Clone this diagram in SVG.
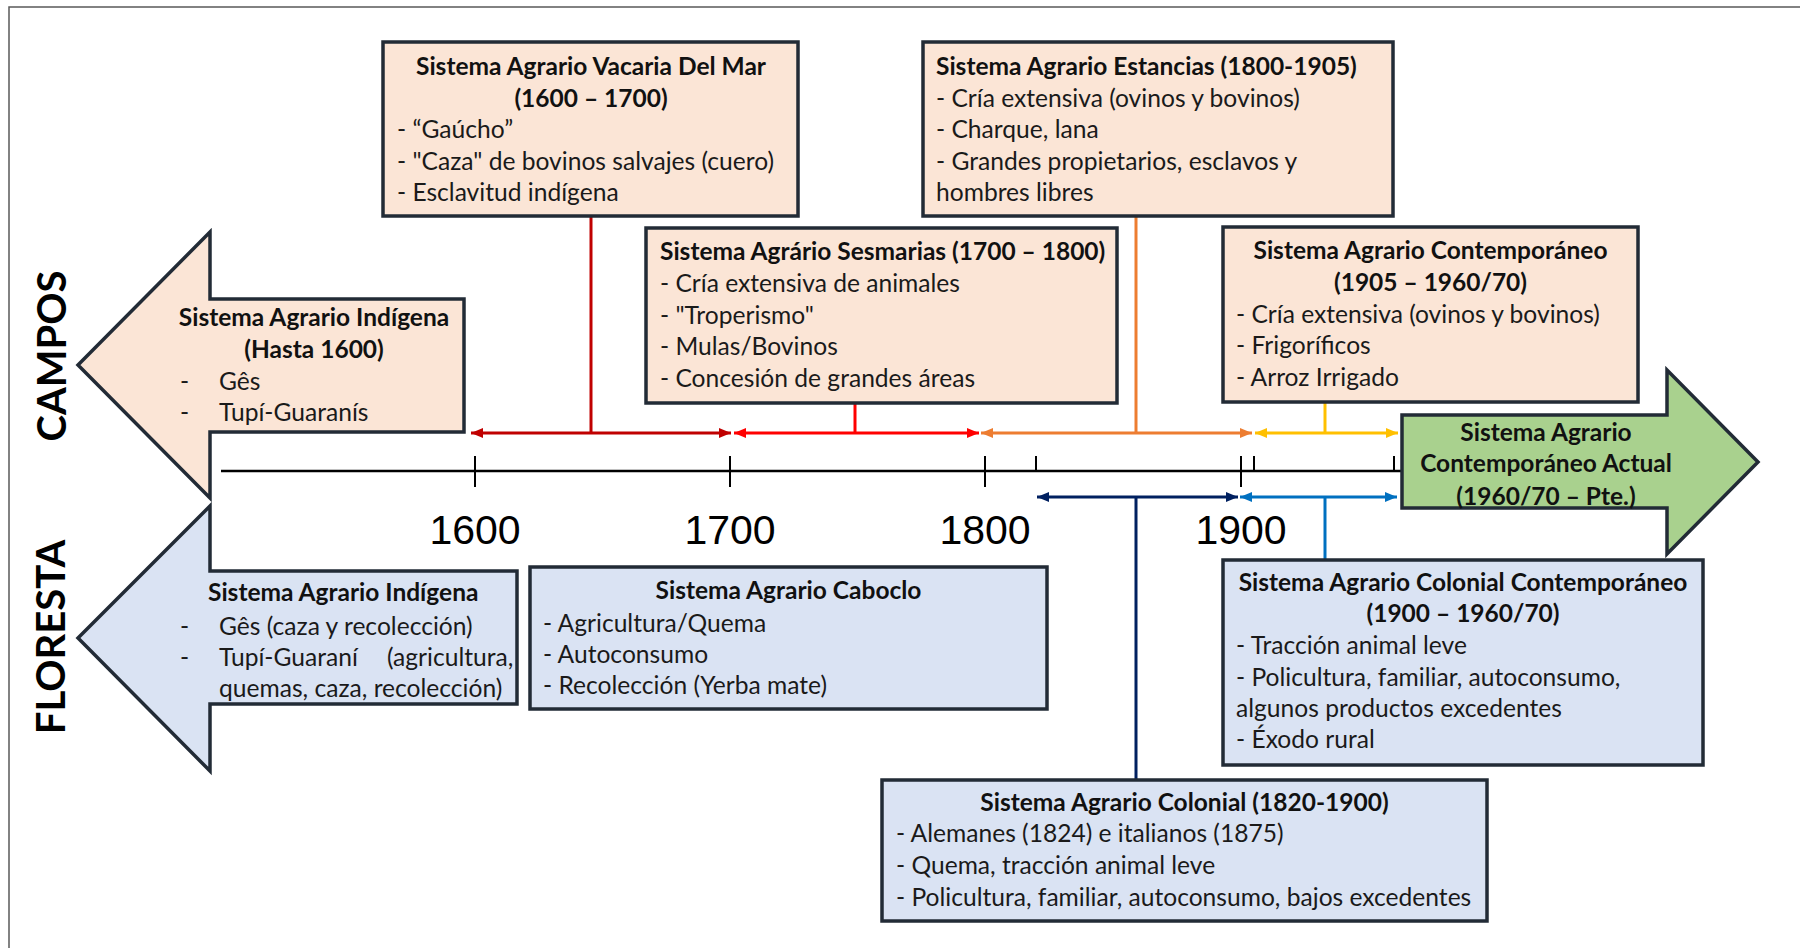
<svg xmlns="http://www.w3.org/2000/svg" width="1800" height="948" viewBox="0 0 1800 948">
<style>
.box{stroke:#222b36;stroke-width:3.5;stroke-linejoin:miter}
.peach{fill:#fbe5d6}
.blue{fill:#dae3f3}
.green{fill:#a9d18e}
.t{font-family:Lato,"Open Sans",sans-serif;font-size:24.6px;fill:#1a1a1a}
.b{font-family:Lato,"Open Sans",sans-serif;font-size:24.5px;font-weight:bold;fill:#111}
.c{text-anchor:middle}
.yr{font-family:"Liberation Sans",Arial,sans-serif;font-size:41px;fill:#000;text-anchor:middle}
.side{font-family:Lato,"Open Sans",sans-serif;font-weight:bold;font-size:40px;fill:#000;text-anchor:middle}
.ln{fill:none;stroke-width:3}
.tick{stroke:#000;stroke-width:2}
</style>
<defs>
<marker id="mDR" viewBox="0 0 12 10" refX="12" refY="5" markerWidth="12" markerHeight="10" markerUnits="userSpaceOnUse" orient="auto-start-reverse"><path d="M0,0L12,5L0,10z" fill="#c00000"/></marker>
<marker id="mR" viewBox="0 0 12 10" refX="12" refY="5" markerWidth="12" markerHeight="10" markerUnits="userSpaceOnUse" orient="auto-start-reverse"><path d="M0,0L12,5L0,10z" fill="#ff0000"/></marker>
<marker id="mO" viewBox="0 0 12 10" refX="12" refY="5" markerWidth="12" markerHeight="10" markerUnits="userSpaceOnUse" orient="auto-start-reverse"><path d="M0,0L12,5L0,10z" fill="#ed7d31"/></marker>
<marker id="mY" viewBox="0 0 12 10" refX="12" refY="5" markerWidth="12" markerHeight="10" markerUnits="userSpaceOnUse" orient="auto-start-reverse"><path d="M0,0L12,5L0,10z" fill="#ffc000"/></marker>
<marker id="mN" viewBox="0 0 12 10" refX="12" refY="5" markerWidth="12" markerHeight="10" markerUnits="userSpaceOnUse" orient="auto-start-reverse"><path d="M0,0L12,5L0,10z" fill="#002060"/></marker>
<marker id="mB" viewBox="0 0 12 10" refX="12" refY="5" markerWidth="12" markerHeight="10" markerUnits="userSpaceOnUse" orient="auto-start-reverse"><path d="M0,0L12,5L0,10z" fill="#0070c0"/></marker>
</defs>
<rect width="1800" height="948" fill="#fff"/>
<path d="M9,948V7H1800" fill="none" stroke="#5a5a5a" stroke-width="1.5"/>

<text class="side" transform="translate(66,356) rotate(-90)">CAMPOS</text>
<text class="side" transform="translate(65,637) rotate(-90)">FLORESTA</text>

<g id="timeline">
<line x1="221" y1="471" x2="1405" y2="471" stroke="#000" stroke-width="2.5"/>
<line class="tick" x1="475" y1="456" x2="475" y2="487"/>
<line class="tick" x1="730" y1="456" x2="730" y2="487"/>
<line class="tick" x1="985" y1="456" x2="985" y2="487"/>
<line class="tick" x1="1241" y1="456" x2="1241" y2="487"/>
<line class="tick" x1="1036" y1="456" x2="1036" y2="471"/>
<line class="tick" x1="1254" y1="456" x2="1254" y2="471"/>
<line class="tick" x1="1394" y1="456" x2="1394" y2="471"/>
<text class="yr" x="475" y="544">1600</text>
<text class="yr" x="730" y="544">1700</text>
<text class="yr" x="985" y="544">1800</text>
<text class="yr" x="1241" y="544">1900</text>
</g>

<g id="connectors">
<path class="ln" stroke="#c00000" d="M471,433H731" marker-start="url(#mDR)" marker-end="url(#mDR)"/>
<path class="ln" stroke="#c00000" d="M591,216V433"/>
<path class="ln" stroke="#ff0000" d="M734,433H979" marker-start="url(#mR)" marker-end="url(#mR)"/>
<path class="ln" stroke="#ff0000" d="M855,403V433"/>
<path class="ln" stroke="#ed7d31" d="M981,433H1252" marker-start="url(#mO)" marker-end="url(#mO)"/>
<path class="ln" stroke="#ed7d31" d="M1136,216V433"/>
<path class="ln" stroke="#ffc000" d="M1255,433H1398" marker-start="url(#mY)" marker-end="url(#mY)"/>
<path class="ln" stroke="#ffc000" d="M1325,402V433"/>
<path class="ln" stroke="#002060" d="M1037,497H1238" marker-start="url(#mN)" marker-end="url(#mN)"/>
<path class="ln" stroke="#002060" d="M1136,497V780"/>
<path class="ln" stroke="#0070c0" d="M1240,497H1397" marker-start="url(#mB)" marker-end="url(#mB)"/>
<path class="ln" stroke="#0070c0" d="M1325,497V560"/>
</g>

<g id="campos-indigena">
<path class="box peach" d="M78,365L210,232V299H464V432H210V498Z"/>
<text class="b c" x="314" y="326">Sistema Agrario Indígena</text>
<text class="b c" x="314" y="358">(Hasta 1600)</text>
<text class="t" x="180" y="389.5">-</text><text class="t" x="219" y="389.5">Gês</text>
<text class="t" x="180" y="421">-</text><text class="t" x="219" y="421">Tupí-Guaranís</text>
</g>

<g id="floresta-indigena">
<path class="box blue" d="M78,638L210,506V571H517V704H210V771Z"/>
<text class="b" x="208" y="601">Sistema Agrario Indígena</text>
<text class="t" x="180" y="634.5">-</text><text class="t" x="219" y="634.5">Gês (caza y recolección)</text>
<text class="t" x="180" y="665.5">-</text><text class="t" y="665.5"><tspan x="219">Tupí-Guaraní</tspan><tspan x="387">(agricultura,</tspan></text>
<text class="t" x="219" y="697">quemas, caza, recolección)</text>
</g>

<g id="vacaria">
<rect class="box peach" x="383" y="42" width="415" height="174"/>
<text class="b c" x="591" y="75">Sistema Agrario Vacaria Del Mar</text>
<text class="b c" x="591" y="106.5">(1600 – 1700)</text>
<text class="t" x="397" y="138">- “Gaúcho”</text>
<text class="t" x="397" y="169.5">- "Caza" de bovinos salvajes (cuero)</text>
<text class="t" x="397" y="201">- Esclavitud indígena</text>
</g>

<g id="estancias">
<rect class="box peach" x="923" y="42" width="470" height="174"/>
<text class="b" x="936" y="75">Sistema Agrario Estancias (1800-1905)</text>
<text class="t" x="936" y="106.5">- Cría extensiva (ovinos y bovinos)</text>
<text class="t" x="936" y="138">- Charque, lana</text>
<text class="t" x="936" y="169.5">- Grandes propietarios, esclavos y</text>
<text class="t" x="936" y="201">hombres libres</text>
</g>

<g id="sesmarias">
<rect class="box peach" x="646" y="228" width="471" height="175"/>
<text class="b" x="660" y="260">Sistema Agrário Sesmarias (1700 – 1800)</text>
<text class="t" x="660" y="292">- Cría extensiva de animales</text>
<text class="t" x="660" y="323.5">- "Troperismo"</text>
<text class="t" x="660" y="355">- Mulas/Bovinos</text>
<text class="t" x="660" y="386.5">- Concesión de grandes áreas</text>
</g>

<g id="contemporaneo">
<rect class="box peach" x="1223" y="227" width="415" height="175"/>
<text class="b c" x="1430.5" y="259">Sistema Agrario Contemporáneo</text>
<text class="b c" x="1430.5" y="291">(1905 – 1960/70)</text>
<text class="t" x="1236" y="322.5">- Cría extensiva (ovinos y bovinos)</text>
<text class="t" x="1236" y="354">- Frigoríficos</text>
<text class="t" x="1236" y="385.5">- Arroz Irrigado</text>
</g>

<g id="contemporaneo-actual">
<path class="box green" d="M1402,415H1667V370L1758,462L1667,554V508H1402Z"/>
<text class="b c" x="1546" y="441">Sistema Agrario</text>
<text class="b c" x="1546" y="472">Contemporáneo Actual</text>
<text class="b c" x="1546" y="505">(1960/70 – Pte.)</text>
</g>

<g id="caboclo">
<rect class="box blue" x="530" y="567" width="517" height="142"/>
<text class="b c" x="788.5" y="598.5">Sistema Agrario Caboclo</text>
<text class="t" x="543" y="631.5">- Agricultura/Quema</text>
<text class="t" x="543" y="662.5">- Autoconsumo</text>
<text class="t" x="543" y="693.5">- Recolección (Yerba mate)</text>
</g>

<g id="colonial">
<rect class="box blue" x="882" y="780" width="605" height="141"/>
<text class="b c" x="1184.5" y="810.5">Sistema Agrario Colonial (1820-1900)</text>
<text class="t" x="896" y="841.5">- Alemanes (1824) e italianos (1875)</text>
<text class="t" x="896" y="873.5">- Quema, tracción animal leve</text>
<text class="t" x="896" y="905.5">- Policultura, familiar, autoconsumo, bajos excedentes</text>
</g>

<g id="colonial-contemporaneo">
<rect class="box blue" x="1223" y="560" width="480" height="205"/>
<text class="b c" x="1463" y="590.5">Sistema Agrario Colonial Contemporáneo</text>
<text class="b c" x="1463" y="621.5">(1900 – 1960/70)</text>
<text class="t" x="1236" y="653.5">- Tracción animal leve</text>
<text class="t" x="1236" y="686">- Policultura, familiar, autoconsumo,</text>
<text class="t" x="1236" y="716.5">algunos productos excedentes</text>
<text class="t" x="1236" y="747.5">- Éxodo rural</text>
</g>
</svg>
